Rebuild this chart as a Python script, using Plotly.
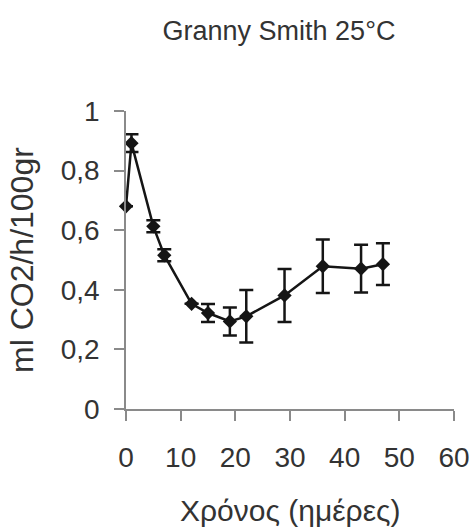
import plotly.graph_objects as go

days = [0, 1, 5, 7, 12, 15, 19, 22, 29, 36, 43, 47]
co2 = [0.68, 0.892, 0.613, 0.516, 0.353, 0.322, 0.294, 0.311, 0.381, 0.479, 0.471, 0.486]
err = [None, 0.03, 0.02, 0.02, None, 0.03, 0.047, 0.088, 0.089, 0.09, 0.08, 0.07]

x_ticks = [0, 10, 20, 30, 40, 50, 60]
y_ticks = [0, 0.2, 0.4, 0.6, 0.8, 1]
y_tick_text = ["0", "0,2", "0,4", "0,6", "0,8", "1"]

title_text = "Granny Smith 25°C"
x_title = "Χρόνος (ημέρες)"
y_title = "ml CO2/h/100gr"

font_family = "Arial, Liberation Sans, sans-serif"
text_color = "#333333"
axis_color = "#8a8a8a"
mark_color = "#151515"

W, H = 472, 528
L, R, T, B = 126, 18, 111, 119
plot_w, plot_h = W - L - R, H - T - B

fig = go.Figure()
fig.add_trace(go.Scatter(
    x=days, y=co2,
    mode="lines+markers",
    line=dict(color=mark_color, width=2.5),
    marker=dict(symbol="diamond", size=11, color=mark_color),
    error_y=dict(type="data", array=err, visible=True, color=mark_color,
                 thickness=2.5, width=7),
    cliponaxis=False,
    showlegend=False,
))

fig.update_layout(
    width=W, height=H,
    margin=dict(l=L, r=R, t=T, b=B, autoexpand=False),
    paper_bgcolor="white", plot_bgcolor="white",
    font=dict(family=font_family, color=text_color),
    title=dict(text=title_text, x=279 / W, xanchor="center", y=1 - 31 / H,
               yanchor="middle", font=dict(size=27, color=text_color)),
    annotations=[
        dict(text=x_title, xref="paper", yref="paper",
             x=(290 - L) / plot_w, y=-(510 - (H - B)) / plot_h,
             xanchor="center", yanchor="middle", showarrow=False,
             font=dict(size=30, color=text_color)),
        dict(text=y_title, xref="paper", yref="paper", textangle=-90,
             x=(22 - L) / plot_w, y=(H - B - 260) / plot_h,
             xanchor="center", yanchor="middle", showarrow=False,
             font=dict(size=32, color=text_color)),
    ],
)

fig.update_xaxes(
    range=[0, 60], tickvals=x_ticks, ticktext=[str(v) for v in x_ticks],
    showline=True, linecolor=axis_color, linewidth=1.5,
    ticks="outside", ticklen=10, tickwidth=1.5, tickcolor=axis_color,
    showgrid=False, zeroline=False, automargin=False,
    tickfont=dict(size=28, color=text_color), ticklabelstandoff=13,
)
fig.update_yaxes(
    range=[0, 1], tickvals=y_ticks, ticktext=y_tick_text,
    showline=True, linecolor=axis_color, linewidth=1.5,
    ticks="outside", ticklen=10, tickwidth=1.5, tickcolor=axis_color,
    showgrid=False, zeroline=False, automargin=False,
    tickfont=dict(size=28, color=text_color), ticklabelstandoff=9,
)

fig.write_html(
    "out.html",
    config={"displayModeBar": False},
    post_script="document.body.style.margin='0';document.body.style.overflow='hidden';",
)
